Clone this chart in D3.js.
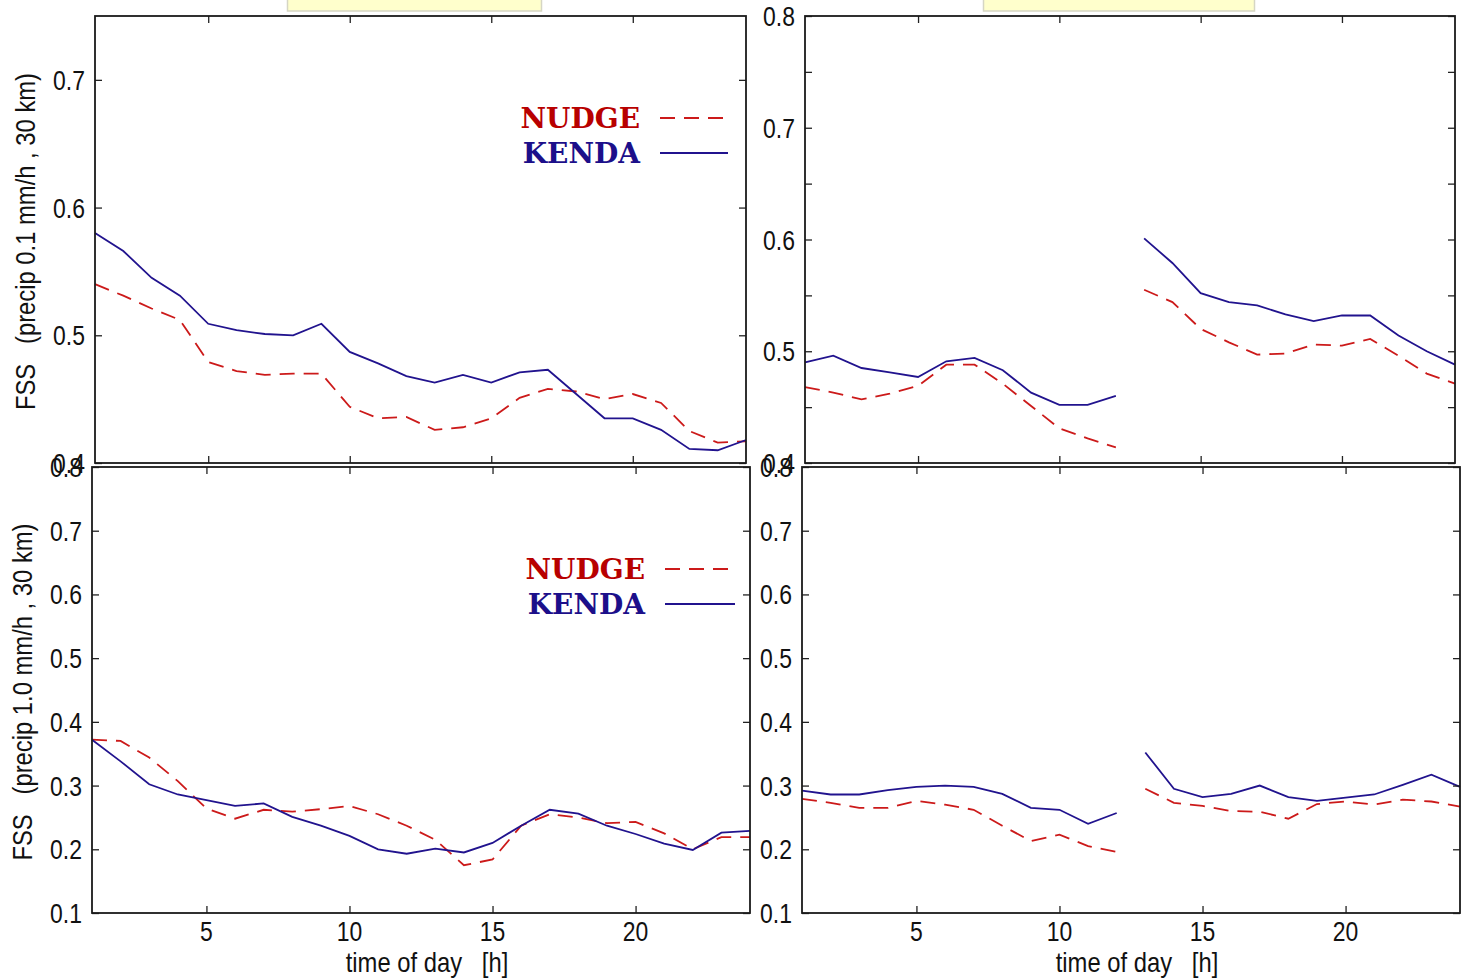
<!DOCTYPE html>
<html>
<head>
<meta charset="utf-8">
<script src="https://cdn.jsdelivr.net/npm/d3@7"></script>
<style>
  html, body { margin: 0; padding: 0; background: #fff; }
  svg { display: block; }
  .tick-label { font-family: "Liberation Sans", Arial, sans-serif; font-size: 27px; fill: #111; }
  .axis-title { font-family: "Liberation Sans", Arial, sans-serif; font-size: 28px; fill: #111; white-space: pre; }
  .legend-text { font-family: "DejaVu Serif", serif; font-weight: bold; font-size: 28px; }
</style>
</head>
<body>
<svg id="chart" width="1461" height="980"></svg>
<script>
// Hour of day (x categories)
const hours = [1, 2, 3, 4, 5, 6, 7, 8, 9, 10, 11, 12, 13, 14, 15, 16, 17, 18, 19, 20, 21, 22, 23, 24];

// FSS, precip 0.1 mm/h, 30 km — left column
const nudgeA = [0.540, 0.531, 0.521, 0.512, 0.479, 0.472, 0.469, 0.470, 0.470, 0.444, 0.435, 0.436,
                0.426, 0.428, 0.435, 0.451, 0.458, 0.456, 0.450, 0.454, 0.447, 0.425, 0.416, 0.417];
const kendaA = [0.580, 0.566, 0.545, 0.531, 0.509, 0.504, 0.501, 0.500, 0.509, 0.487, 0.478, 0.468,
                0.463, 0.469, 0.463, 0.471, 0.473, 0.454, 0.435, 0.435, 0.426, 0.411, 0.410, 0.418];

// FSS, precip 0.1 mm/h, 30 km — right column (separate runs before and after 12 h)
const nudgeB = [0.468, 0.463, 0.457, 0.462, 0.469, 0.488, 0.488, 0.471, 0.451, 0.431, 0.422, 0.414,
                0.555, 0.544, 0.520, 0.508, 0.497, 0.498, 0.506, 0.505, 0.511, 0.496, 0.480, 0.471];
const kendaB = [0.490, 0.496, 0.485, 0.481, 0.477, 0.491, 0.494, 0.483, 0.463, 0.452, 0.452, 0.460,
                0.601, 0.579, 0.552, 0.544, 0.541, 0.533, 0.527, 0.532, 0.532, 0.514, 0.500, 0.488];

// FSS, precip 1.0 mm/h, 30 km — left column
const nudgeC = [0.372, 0.370, 0.344, 0.307, 0.264, 0.248, 0.262, 0.259, 0.263, 0.268, 0.255, 0.237,
                0.215, 0.175, 0.184, 0.237, 0.255, 0.250, 0.241, 0.243, 0.225, 0.200, 0.219, 0.219];
const kendaC = [0.372, 0.338, 0.302, 0.286, 0.277, 0.268, 0.272, 0.251, 0.237, 0.221, 0.200, 0.193,
                0.201, 0.195, 0.210, 0.237, 0.262, 0.256, 0.237, 0.224, 0.209, 0.199, 0.226, 0.229];

// FSS, precip 1.0 mm/h, 30 km — right column
const nudgeD = [0.279, 0.273, 0.265, 0.265, 0.276, 0.270, 0.262, 0.237, 0.213, 0.223, 0.205, 0.196,
                0.295, 0.273, 0.268, 0.260, 0.259, 0.248, 0.271, 0.275, 0.270, 0.278, 0.275, 0.267];
const kendaD = [0.292, 0.286, 0.286, 0.293, 0.298, 0.300, 0.298, 0.287, 0.265, 0.262, 0.240, 0.257,
                0.352, 0.295, 0.282, 0.287, 0.300, 0.282, 0.276, 0.281, 0.286, 0.301, 0.317, 0.298];

// Axis ticks and labels
const hourTicks = [5, 10, 15, 20];
const xTitle = "time of day   [h]";
const yTitleTop = "FSS   (precip 0.1 mm/h , 30 km)";
const yTitleBottom = "FSS   (precip 1.0 mm/h , 30 km)";
const seriesNames = ["NUDGE", "KENDA"];

const NUDGE_COLOR = "#cc1a1a";
const NUDGE_TEXT = "#b80000";
const KENDA_COLOR = "#21138e";
const KENDA_TEXT = "#1c0f8a";
const NUDGE_DASH = "15,9";
const SQUEEZE = 0.85;   // horizontal condensing of the sans labels

const svg = d3.select("#chart");

// Title boxes partially above the top edge
svg.append("rect").attr("x", 287.5).attr("y", -20).attr("width", 254).attr("height", 31)
  .attr("fill", "#ffffcc").attr("stroke", "#d6d6c4").attr("stroke-width", 1.5);
svg.append("rect").attr("x", 983.5).attr("y", -20).attr("width", 271).attr("height", 31)
  .attr("fill", "#ffffcc").attr("stroke", "#d6d6c4").attr("stroke-width", 1.5);

const panels = [
  { x0: 95,  x1: 746,  y0: 16,  y1: 463, dom: [0.4, 0.75], yTicks: [0.4, 0.5, 0.6, 0.7],
    yLabels: [0.4, 0.5, 0.6, 0.7], nudge: nudgeA, kenda: kendaA, xLabels: false, split: false,
    yTitle: yTitleTop, legend: { x: 640, y: 128, lx0: 660, lx1: 728 } },
  { x0: 805, x1: 1455, y0: 16,  y1: 463, dom: [0.4, 0.8],
    yTicks: [0.4, 0.45, 0.5, 0.55, 0.6, 0.65, 0.7, 0.75, 0.8],
    yLabels: [0.4, 0.5, 0.6, 0.7, 0.8], nudge: nudgeB, kenda: kendaB, xLabels: false, split: true },
  { x0: 92,  x1: 750,  y0: 467, y1: 913, dom: [0.1, 0.8],
    yTicks: [0.1, 0.2, 0.3, 0.4, 0.5, 0.6, 0.7, 0.8],
    yLabels: [0.1, 0.2, 0.3, 0.4, 0.5, 0.6, 0.7, 0.8], nudge: nudgeC, kenda: kendaC, xLabels: true, split: false,
    yTitle: yTitleBottom, legend: { x: 645, y: 579, lx0: 665, lx1: 735 } },
  { x0: 802, x1: 1460, y0: 467, y1: 913, dom: [0.1, 0.8],
    yTicks: [0.1, 0.2, 0.3, 0.4, 0.5, 0.6, 0.7, 0.8],
    yLabels: [0.1, 0.2, 0.3, 0.4, 0.5, 0.6, 0.7, 0.8], nudge: nudgeD, kenda: kendaD, xLabels: true, split: true }
];

const TICK = 7;

// Condensed text helper: anchor point (x, y), squeezed horizontally
function squeezed(g, cls, x, y, txt, anchor, rot) {
  return g.append("text").attr("class", cls)
    .attr("transform", `translate(${x},${y})` + (rot ? ` rotate(${rot})` : "") + ` scale(${SQUEEZE},1)`)
    .attr("text-anchor", anchor)
    .text(txt);
}

panels.forEach(p => {
  const x = d3.scaleLinear().domain([1, 24]).range([p.x0, p.x1]);
  const y = d3.scaleLinear().domain(p.dom).range([p.y1, p.y0]);
  const g = svg.append("g");

  const line = d3.line().x(d => x(d[0])).y(d => y(d[1]));
  // Right-column runs are drawn as two pieces: 1–12 h and 13–24 h
  const pieces = vals => {
    const pts = hours.map((h, i) => [h, vals[i]]);
    return p.split ? [pts.slice(0, 12), pts.slice(12)] : [pts];
  };

  pieces(p.nudge).forEach(seg => {
    g.append("path").datum(seg).attr("d", line)
      .attr("fill", "none").attr("stroke", NUDGE_COLOR).attr("stroke-width", 1.8)
      .attr("stroke-dasharray", NUDGE_DASH);
  });
  pieces(p.kenda).forEach(seg => {
    g.append("path").datum(seg).attr("d", line)
      .attr("fill", "none").attr("stroke", KENDA_COLOR).attr("stroke-width", 1.8);
  });

  // Inward ticks on all four sides
  const yAxisL = d3.axisLeft(y).tickValues(p.yTicks).tickSize(-TICK).tickFormat("");
  const yAxisR = d3.axisRight(y).tickValues(p.yTicks).tickSize(-TICK).tickFormat("");
  const xAxisB = d3.axisBottom(x).tickValues(hourTicks).tickSize(-TICK).tickFormat("");
  const xAxisT = d3.axisTop(x).tickValues(hourTicks).tickSize(-TICK).tickFormat("");
  [[yAxisL, `translate(${p.x0},0)`], [yAxisR, `translate(${p.x1},0)`],
   [xAxisB, `translate(0,${p.y1})`], [xAxisT, `translate(0,${p.y0})`]].forEach(([ax, tr]) => {
    const a = g.append("g").attr("transform", tr).call(ax);
    a.select(".domain").remove();
    a.selectAll("line").attr("stroke", "#222").attr("stroke-width", 1.3);
  });

  // Frame
  g.append("rect")
    .attr("x", p.x0).attr("y", p.y0)
    .attr("width", p.x1 - p.x0).attr("height", p.y1 - p.y0)
    .attr("fill", "none").attr("stroke", "#1a1a1a").attr("stroke-width", 1.8);

  // Y tick labels
  p.yLabels.forEach(v => {
    squeezed(g, "tick-label", p.x0 - 10, y(v) + 10, d3.format(".1f")(v), "end");
  });

  // X tick labels and title
  if (p.xLabels) {
    hourTicks.forEach(h => {
      squeezed(g, "tick-label", x(h), p.y1 + 28, String(h), "middle");
    });
    squeezed(g, "axis-title", (p.x0 + p.x1) / 2 + 6, p.y1 + 59, xTitle, "middle");
  }

  // Y title
  if (p.yTitle) {
    squeezed(g, "axis-title", p.x0 - 60, (p.y0 + p.y1) / 2 + 2, p.yTitle, "middle", -90);
  }

  // Legend
  if (p.legend) {
    const L = p.legend;
    const styles = [[NUDGE_TEXT, NUDGE_COLOR, NUDGE_DASH], [KENDA_TEXT, KENDA_COLOR, null]];
    seriesNames.forEach((name, i) => {
      const yy = L.y + i * 35;
      g.append("text").attr("class", "legend-text")
        .attr("x", L.x).attr("y", yy)
        .attr("text-anchor", "end")
        .attr("fill", styles[i][0])
        .text(name);
      const ln = g.append("line")
        .attr("x1", L.lx0).attr("x2", L.lx1)
        .attr("y1", yy - 10).attr("y2", yy - 10)
        .attr("stroke", styles[i][1]).attr("stroke-width", 1.8);
      if (styles[i][2]) ln.attr("stroke-dasharray", styles[i][2]);
    });
  }
});
</script>
</body>
</html>
